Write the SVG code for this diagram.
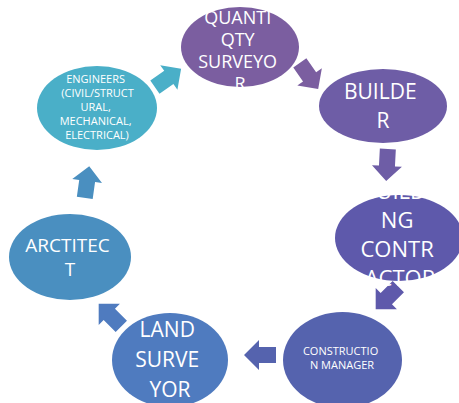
<svg xmlns="http://www.w3.org/2000/svg" width="459" height="403" viewBox="0 0 459 403">
  <style>
    .lbl { font-family: "Open Sans", "Noto Sans", "Liberation Sans", sans-serif; fill: #ffffff; text-anchor: middle; }
  </style>
  <defs>
    <!-- block arrow pointing right, centred on origin -->
    <polygon id="blockArrow" points="-16,-8 1,-8 1,-15 16,0 1,15 1,8 -16,8"/>
  </defs>
  <rect width="459" height="403" fill="#ffffff"/>

  <g id="connectors">
    <use href="#blockArrow" fill="#4AAFC8" transform="translate(168,78) rotate(-35)"/>
    <use href="#blockArrow" fill="#7B5EA0" transform="translate(309,76) rotate(55)"/>
    <use href="#blockArrow" fill="#6E5DA6" transform="translate(387,165) rotate(93)"/>
    <use href="#blockArrow" fill="#5E59AB" transform="translate(387,298) rotate(135)"/>
    <use href="#blockArrow" fill="#5563AE" transform="translate(260,355) rotate(180)"/>
    <use href="#blockArrow" fill="#4F7BBF" transform="translate(110,315) rotate(-135)"/>
    <use href="#blockArrow" fill="#4A8FC0" transform="translate(87,182) rotate(-82)"/>
  </g>

  <g id="quantity-surveyor">
    <ellipse cx="240" cy="47" rx="59" ry="40" fill="#7B5EA0"/>
    <text class="lbl" font-size="18">
      <tspan x="240" y="24">QUANTI</tspan>
      <tspan x="240" y="46">QTY</tspan>
      <tspan x="240" y="68">SURVEYO</tspan>
      <tspan x="240" y="90">R</tspan>
    </text>
  </g>

  <g id="builder">
    <ellipse cx="383" cy="106" rx="64" ry="37" fill="#6E5DA6"/>
    <text class="lbl" font-size="21">
      <tspan x="383" y="99">BUILDE</tspan>
      <tspan x="383" y="128">R</tspan>
    </text>
  </g>

  <g id="building-contractor">
    <ellipse cx="399" cy="238" rx="64" ry="43" fill="#5E59AB"/>
    <text class="lbl" font-size="22">
      <tspan x="400" y="199">BUILDI</tspan>
      <tspan x="400" y="228">NG</tspan>
      <tspan x="400" y="257">CONTR</tspan>
      <tspan x="400" y="286">ACTOR</tspan>
    </text>
  </g>

  <g id="construction-manager">
    <ellipse cx="342.5" cy="360" rx="59.5" ry="48" fill="#5563AE"/>
    <text class="lbl" font-size="11">
      <tspan x="342" y="355">CONSTRUCTIO</tspan>
      <tspan x="342" y="369">N MANAGER</tspan>
    </text>
  </g>

  <g id="land-surveyor">
    <ellipse cx="170" cy="360" rx="58" ry="47" fill="#4F7BBF"/>
    <text class="lbl" font-size="21">
      <tspan x="170" y="337">LAND</tspan>
      <tspan x="170" y="367">SURVE</tspan>
      <tspan x="170" y="397">YOR</tspan>
    </text>
  </g>

  <g id="architect">
    <ellipse cx="70" cy="257" rx="61" ry="43" fill="#4A8FC0"/>
    <text class="lbl" font-size="19">
      <tspan x="70" y="252">ARCTITEC</tspan>
      <tspan x="70" y="276">T</tspan>
    </text>
  </g>

  <g id="engineers">
    <ellipse cx="97" cy="108" rx="60" ry="42" fill="#4AAFC8"/>
    <text class="lbl" font-size="11">
      <tspan x="97" y="83">ENGINEERS</tspan>
      <tspan x="99" y="97">(CIVIL/STRUCT</tspan>
      <tspan x="97" y="111">URAL,</tspan>
      <tspan x="97" y="125">MECHANICAL,</tspan>
      <tspan x="97" y="139">ELECTRICAL)</tspan>
    </text>
  </g>
</svg>
